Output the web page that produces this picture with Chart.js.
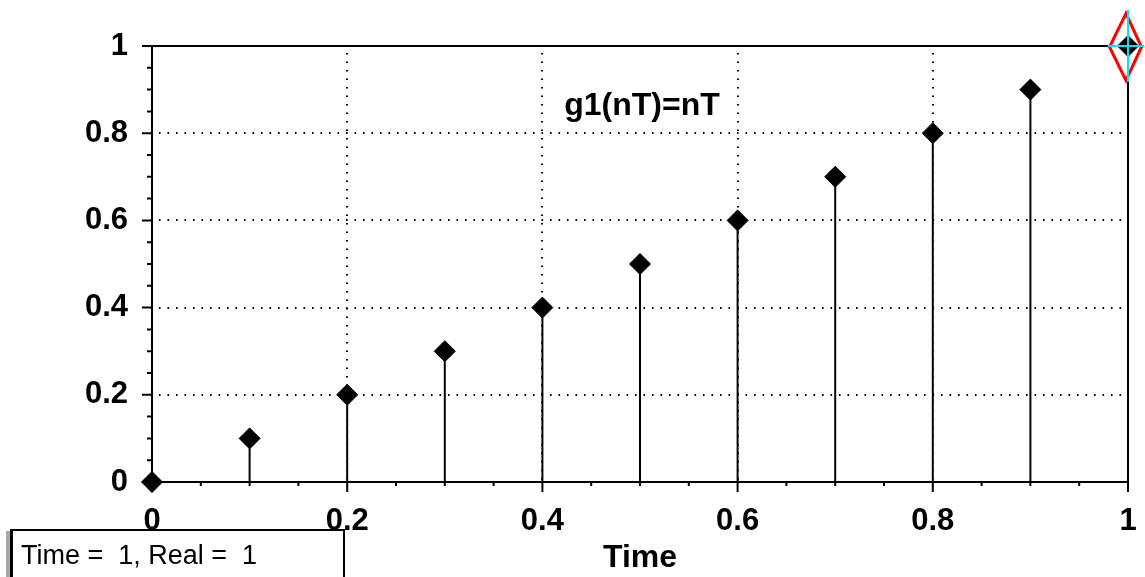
<!DOCTYPE html>
<html><head><meta charset="utf-8">
<script src="https://cdn.jsdelivr.net/npm/chart.js@4/dist/chart.umd.min.js"></script>
<style>
html,body{margin:0;padding:0;background:#fff;overflow:hidden}
#wrap{position:relative;width:1145px;height:577px;overflow:hidden}
#c{position:absolute;left:0;top:0}
#status{position:absolute;left:10px;top:529px;width:330px;height:60px;border-top:2px solid #000;border-left:3px solid #000;border-right:2px solid #000;background:#fff;box-shadow:-4px 2px 0 #a8a8a8;}
#status span{position:absolute;left:8px;top:11px;font:27px "Liberation Sans",Arial,sans-serif;line-height:27px;color:#000;white-space:pre}
</style>
</head><body>
<div id="wrap">
<canvas id="c" width="1145" height="577"></canvas>
<div id="status"><span>Time =  1, Real =  1</span></div>
</div>
<script>
// ---- data ----
const timeValues = [0, 0.1, 0.2, 0.3, 0.4, 0.5, 0.6, 0.7, 0.8, 0.9, 1];
const realValues = [0, 0.1, 0.2, 0.3, 0.4, 0.5, 0.6, 0.7, 0.8, 0.9, 1];
const xTickValues = [0, 0.2, 0.4, 0.6, 0.8, 1];
const yTickValues = [0, 0.2, 0.4, 0.6, 0.8, 1];
const xTickLabels = ['0', '0.2', '0.4', '0.6', '0.8', '1'];
const yTickLabels = ['0', '0.2', '0.4', '0.6', '0.8', '1'];
const cursorTime = 1;
const cursorReal = 1;
const plotTitle = 'g1(nT)=nT';
const xAxisTitle = 'Time';

const points = timeValues.map((t, i) => ({x: t, y: realValues[i]}));

const stemPlugin = {
  id: 'stemPlugin',
  beforeDatasetsDraw(chart) {
    const ctx = chart.ctx;
    const xs = chart.scales.x, ys = chart.scales.y;
    const x0 = xs.getPixelForValue(0), x1 = xs.getPixelForValue(1);
    const y0 = ys.getPixelForValue(0), y1 = ys.getPixelForValue(1);
    ctx.save();
    // dotted grid
    ctx.strokeStyle = '#000';
    ctx.lineWidth = 2;
    ctx.setLineDash([1.6, 6.9]);
    yTickValues.forEach(v => {
      if (v <= 0 || v >= 1) return;
      const py = Math.round(ys.getPixelForValue(v));
      ctx.beginPath(); ctx.moveTo(x0 + 7, py); ctx.lineTo(x1, py); ctx.stroke();
    });
    xTickValues.forEach(v => {
      if (v <= 0 || v >= 1) return;
      const px = Math.round(xs.getPixelForValue(v));
      ctx.beginPath(); ctx.moveTo(px, y1 + 7); ctx.lineTo(px, y0); ctx.stroke();
    });
    ctx.setLineDash([]);
    // stems
    ctx.strokeStyle = '#000';
    ctx.lineWidth = 2;
    points.forEach(p => {
      const px = xs.getPixelForValue(p.x), py = ys.getPixelForValue(p.y);
      ctx.beginPath(); ctx.moveTo(px, y0); ctx.lineTo(px, py); ctx.stroke();
    });
    // axes and borders
    ctx.lineWidth = 2;
    ctx.beginPath();
    ctx.moveTo(x0, y0); ctx.lineTo(x1, y0);
    ctx.moveTo(x0, y1); ctx.lineTo(x0, y0 + 10);
    ctx.moveTo(x0 - 10, y1); ctx.lineTo(x1, y1);
    ctx.moveTo(x1, y1); ctx.lineTo(x1, y0 + 10);
    ctx.stroke();
    // ticks
    ctx.beginPath();
    for (let k = 0; k <= 20; k++) {
      const v = k / 20;
      const major = (k % 4 === 0);
      const px = xs.getPixelForValue(v);
      ctx.moveTo(px, y0); ctx.lineTo(px, y0 + (major ? 10 : 4));
      const py = ys.getPixelForValue(v);
      ctx.moveTo(x0, py); ctx.lineTo(x0 - (major ? 10 : 5), py);
    }
    ctx.stroke();
    // title
    ctx.fillStyle = '#000';
    ctx.font = 'bold 32px "Liberation Sans", Arial, sans-serif';
    ctx.textAlign = 'center';
    ctx.textBaseline = 'alphabetic';
    ctx.fillText(plotTitle, 642, 115);
    ctx.restore();
  },
  afterDatasetsDraw(chart) {
    const ctx = chart.ctx;
    const xs = chart.scales.x, ys = chart.scales.y;
    const cx = xs.getPixelForValue(cursorTime), cy = ys.getPixelForValue(cursorReal);
    ctx.save();
    // red diamond cursor
    ctx.strokeStyle = '#ff0000';
    ctx.lineWidth = 3;
    ctx.beginPath();
    ctx.moveTo(cx - 2, cy - 32.5);
    ctx.lineTo(cx + 13.5, cy + 1);
    ctx.lineTo(cx - 2, cy + 34.5);
    ctx.lineTo(cx - 18.5, cy + 1);
    ctx.closePath();
    ctx.stroke();
    // cyan crosshair
    ctx.strokeStyle = '#00e8f0';
    ctx.lineWidth = 2;
    ctx.beginPath();
    ctx.moveTo(cx - 20, cy); ctx.lineTo(cx + 16, cy);
    ctx.moveTo(cx, cy - 36); ctx.lineTo(cx, cy + 36);
    ctx.stroke();
    ctx.restore();
  }
};

const tickFont = {family: '"Liberation Sans", Arial, sans-serif', size: 31, weight: 'bold'};

new Chart(document.getElementById('c'), {
  type: 'scatter',
  data: {
    datasets: [{
      label: 'g1',
      data: points,
      pointStyle: 'rectRot',
      pointRadius: 10.5,
      pointHoverRadius: 10.5,
      backgroundColor: '#000',
      borderColor: '#000',
      borderWidth: 1,
      showLine: false,
      clip: false
    }]
  },
  options: {
    responsive: false,
    animation: false,
    devicePixelRatio: 1,
    events: [],
    layout: {padding: {left: 0, top: 46, right: 17, bottom: 0}},
    plugins: {legend: {display: false}, tooltip: {enabled: false}, title: {display: false}},
    scales: {
      x: {
        type: 'linear', min: 0, max: 1,
        grid: {display: false, drawTicks: false},
        border: {display: false},
        afterBuildTicks(scale) { scale.ticks = xTickValues.map(v => ({value: v})); },
        afterFit(scale) { scale.height = 95; scale.paddingLeft = 0; scale.paddingRight = 0; },
        ticks: {
          color: '#000', font: tickFont, padding: 21, maxRotation: 0, autoSkip: false,
          callback(v) { const i = xTickValues.indexOf(v); return i >= 0 ? xTickLabels[i] : ''; }
        },
        title: {display: true, text: xAxisTitle, color: '#000',
          font: {family: '"Liberation Sans", Arial, sans-serif', size: 32, weight: 'bold'},
          padding: {top: 0, bottom: 0}}
      },
      y: {
        type: 'linear', min: 0, max: 1,
        grid: {display: false, drawTicks: false},
        border: {display: false},
        afterBuildTicks(scale) { scale.ticks = yTickValues.map(v => ({value: v})); },
        afterFit(scale) { scale.width = 152; scale.paddingTop = 0; scale.paddingBottom = 0; },
        ticks: {
          color: '#000', font: tickFont, padding: 24, autoSkip: false,
          callback(v) { const i = yTickValues.indexOf(v); return i >= 0 ? yTickLabels[i] : ''; }
        }
      }
    }
  },
  plugins: [stemPlugin]
});
</script>
</body></html>
